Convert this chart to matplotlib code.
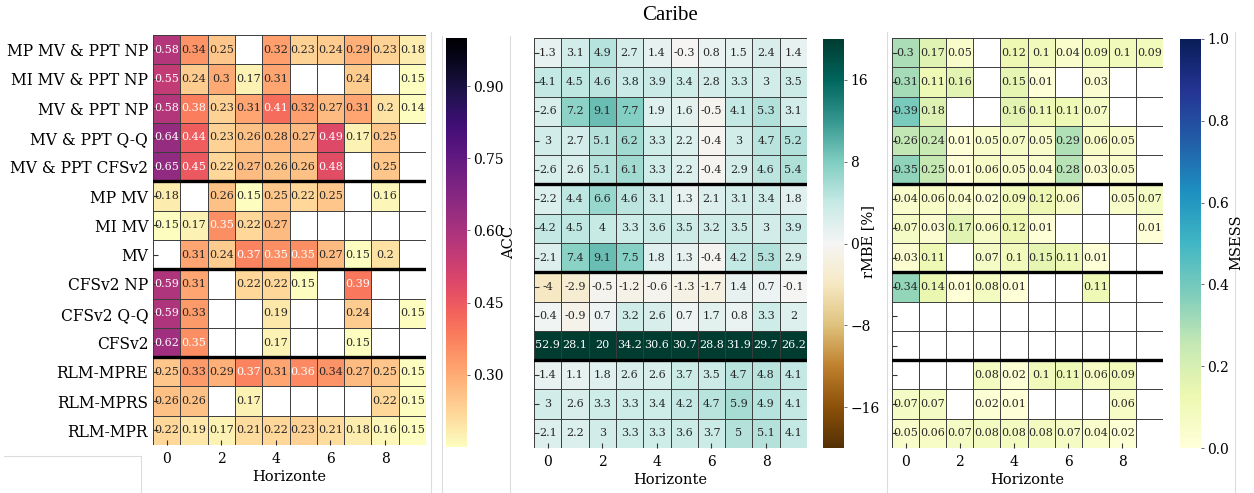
import numpy as np
import matplotlib
matplotlib.use("Agg")
import matplotlib.pyplot as plt
from matplotlib.colors import Normalize
from matplotlib.cm import ScalarMappable
from matplotlib.lines import Line2D

nan = np.nan

models = [
    "MP MV & PPT NP", "MI MV & PPT NP", "MV & PPT NP", "MV & PPT Q-Q",
    "MV & PPT CFSv2", "MP MV", "MI MV", "MV", "CFSv2 NP", "CFSv2 Q-Q",
    "CFSv2", "RLM-MPRE", "RLM-MPRS", "RLM-MPR",
]
horizons = list(range(10))

# Anomaly correlation (blank = not significant)
acc = [
    [0.58, 0.34, 0.25, nan, 0.32, 0.23, 0.24, 0.29, 0.23, 0.18],
    [0.55, 0.24, 0.30, 0.17, 0.31, nan, nan, 0.24, nan, 0.15],
    [0.58, 0.38, 0.23, 0.31, 0.41, 0.32, 0.27, 0.31, 0.20, 0.14],
    [0.64, 0.44, 0.23, 0.26, 0.28, 0.27, 0.49, 0.17, 0.25, nan],
    [0.65, 0.45, 0.22, 0.27, 0.26, 0.26, 0.48, nan, 0.25, nan],
    [0.18, nan, 0.26, 0.15, 0.25, 0.22, 0.25, nan, 0.16, nan],
    [0.15, 0.17, 0.35, 0.22, 0.27, nan, nan, nan, nan, nan],
    [nan, 0.31, 0.24, 0.37, 0.35, 0.35, 0.27, 0.15, 0.20, nan],
    [0.59, 0.31, nan, 0.22, 0.22, 0.15, nan, 0.39, nan, nan],
    [0.59, 0.33, nan, nan, 0.19, nan, nan, 0.24, nan, 0.15],
    [0.62, 0.35, nan, nan, 0.17, nan, nan, 0.15, nan, nan],
    [0.25, 0.33, 0.29, 0.37, 0.31, 0.36, 0.34, 0.27, 0.25, 0.15],
    [0.26, 0.26, nan, 0.17, nan, nan, nan, nan, 0.22, 0.15],
    [0.22, 0.19, 0.17, 0.21, 0.22, 0.23, 0.21, 0.18, 0.16, 0.15],
]

# Relative mean bias error [%]
rmbe = [
    [1.3, 3.1, 4.9, 2.7, 1.4, -0.3, 0.8, 1.5, 2.4, 1.4],
    [4.1, 4.5, 4.6, 3.8, 3.9, 3.4, 2.8, 3.3, 3.0, 3.5],
    [2.6, 7.2, 9.1, 7.7, 1.9, 1.6, -0.5, 4.1, 5.3, 3.1],
    [3.0, 2.7, 5.1, 6.2, 3.3, 2.2, -0.4, 3.0, 4.7, 5.2],
    [2.6, 2.6, 5.1, 6.1, 3.3, 2.2, -0.4, 2.9, 4.6, 5.4],
    [2.2, 4.4, 6.6, 4.6, 3.1, 1.3, 2.1, 3.1, 3.4, 1.8],
    [4.2, 4.5, 4.0, 3.3, 3.6, 3.5, 3.2, 3.5, 3.0, 3.9],
    [2.1, 7.4, 9.1, 7.5, 1.8, 1.3, -0.4, 4.2, 5.3, 2.9],
    [-4.0, -2.9, -0.5, -1.2, -0.6, -1.3, -1.7, 1.4, 0.7, -0.1],
    [0.4, -0.9, 0.7, 3.2, 2.6, 0.7, 1.7, 0.8, 3.3, 2.0],
    [52.9, 28.1, 20.0, 34.2, 30.6, 30.7, 28.8, 31.9, 29.7, 26.2],
    [1.4, 1.1, 1.8, 2.6, 2.6, 3.7, 3.5, 4.7, 4.8, 4.1],
    [3.0, 2.6, 3.3, 3.3, 3.4, 4.2, 4.7, 5.9, 4.9, 4.1],
    [2.1, 2.2, 3.0, 3.3, 3.3, 3.6, 3.7, 5.0, 5.1, 4.1],
]

# Mean squared error skill score (blank = no skill)
msess = [
    [0.30, 0.17, 0.05, nan, 0.12, 0.10, 0.04, 0.09, 0.10, 0.09],
    [0.31, 0.11, 0.16, nan, 0.15, 0.01, nan, 0.03, nan, nan],
    [0.39, 0.18, nan, nan, 0.16, 0.11, 0.11, 0.07, nan, nan],
    [0.26, 0.24, 0.01, 0.05, 0.07, 0.05, 0.29, 0.06, 0.05, nan],
    [0.35, 0.25, 0.01, 0.06, 0.05, 0.04, 0.28, 0.03, 0.05, nan],
    [0.04, 0.06, 0.04, 0.02, 0.09, 0.12, 0.06, nan, 0.05, 0.07],
    [0.07, 0.03, 0.17, 0.06, 0.12, 0.01, nan, nan, nan, 0.01],
    [0.03, 0.11, nan, 0.07, 0.10, 0.15, 0.11, 0.01, nan, nan],
    [0.34, 0.14, 0.01, 0.08, 0.01, nan, nan, 0.11, nan, nan],
    [nan] * 10,
    [nan] * 10,
    [nan, nan, nan, 0.08, 0.02, 0.10, 0.11, 0.06, 0.09, nan],
    [0.07, 0.07, nan, 0.02, 0.01, nan, nan, nan, 0.06, nan],
    [0.05, 0.06, 0.07, 0.08, 0.08, 0.08, 0.07, 0.04, 0.02, nan],
]

group_breaks = [5, 8, 11]

plt.rcParams["font.family"] = ["DejaVu Serif"]

W, H = 1254, 493
fig = plt.figure(figsize=(W / 100, H / 100), dpi=100)


def px_axes(x0, y0, x1, y1):
    return fig.add_axes([x0 / W, 1 - y1 / H, (x1 - x0) / W, (y1 - y0) / H])


def draw_panel(ax, values, cmap, norm, light_text, show_labels):
    data = np.ma.masked_invalid(np.array(values, dtype=float))
    nrow, ncol = data.shape
    ax.pcolormesh(np.arange(ncol + 1), np.arange(nrow + 1), data,
                  cmap=cmap, norm=norm)
    ax.set_xlim(0, ncol)
    ax.set_ylim(nrow, 0)
    for i in range(nrow + 1):
        ax.axhline(i, color="#3c3c3c", lw=0.7, zorder=3)
    for j in range(ncol + 1):
        ax.axvline(j, color="#3c3c3c", lw=0.7, zorder=3)
    for b in group_breaks:
        ax.axhline(b, color="black", lw=2.4, zorder=4)
    for i in range(nrow):
        for j in range(ncol):
            v = data[i, j]
            if np.ma.is_masked(v):
                continue
            color = "white" if light_text(v) else "#262626"
            ax.text(j + 0.5, i + 0.5, "{:g}".format(v), ha="center",
                    va="center", fontsize=8, color=color, zorder=5)
    ax.set_xticks(np.arange(0, ncol, 2) + 0.5)
    ax.set_xticklabels([str(h) for h in horizons[::2]], fontsize=10)
    ax.set_yticks(np.arange(nrow) + 0.5)
    if show_labels:
        ax.set_yticklabels(models, fontsize=11.2)
    else:
        ax.set_yticklabels([])
    ax.tick_params(axis="both", direction="in", length=3.5, width=0.8,
                   color="#333333", zorder=6)
    ax.tick_params(axis="x", pad=5)
    ax.set_xlabel("Horizonte", fontsize=10.5, labelpad=3)
    for s in ax.spines.values():
        s.set_visible(False)


def draw_cbar(cax, cmap, norm, ticks, labels, label, label_x):
    cb = fig.colorbar(ScalarMappable(norm=norm, cmap=cmap), cax=cax)
    cb.outline.set_visible(False)
    cb.set_ticks(ticks)
    cb.set_ticklabels(labels)
    cax.tick_params(direction="out", length=2.5, width=0.6, pad=2,
                    labelsize=10, color="#555555")
    fig.text(label_x / W, 1 - 242 / H, label, rotation=90, ha="center",
             va="center", fontsize=10.5)


# ACC
ax1 = px_axes(153, 35, 426, 445)
norm1 = Normalize(0.15, 1.0)
draw_panel(ax1, acc, "magma_r", norm1, lambda v: v >= 0.35, True)
cax1 = px_axes(446, 38, 467, 447)
acc_ticks = [0.30, 0.45, 0.60, 0.75, 0.90]
draw_cbar(cax1, "magma_r", norm1, acc_ticks,
          ["{:.2f}".format(t) for t in acc_ticks], "ACC", 509)

# rMBE
ax2 = px_axes(534, 38, 807, 448)
norm2 = Normalize(-20, 20)
draw_panel(ax2, rmbe, "BrBG", norm2, lambda v: abs(v) >= 16, False)
cax2 = px_axes(823, 39, 844, 448)
rmbe_ticks = [-16, -8, 0, 8, 16]
draw_cbar(cax2, "BrBG", norm2, rmbe_ticks,
          ["{:g}".format(t).replace("-", "\u2212") for t in rmbe_ticks],
          "rMBE [%]", 868)

# MSESS
ax3 = px_axes(892, 38, 1163, 448)
norm3 = Normalize(0.0, 1.0)
draw_panel(ax3, msess, "YlGnBu", norm3, lambda v: v >= 0.6, False)
cax3 = px_axes(1180, 39, 1201, 448)
msess_ticks = [0.0, 0.2, 0.4, 0.6, 0.8, 1.0]
draw_cbar(cax3, "YlGnBu", norm3, msess_ticks,
          ["{:.1f}".format(t) for t in msess_ticks], "MSESS", 1236)

fig.text(670 / W, 1 - 16 / H, "Caribe", ha="center", va="center",
         fontsize=15, family=["Liberation Serif"])

# thin frame lines around the individual plot blocks
frame = "#dcdcdc"
for (x0, y0, x1, y1) in [(4, 456, 141, 456), (141, 456, 141, 493),
                         (431, 32, 431, 493), (442, 36, 442, 493),
                         (510, 36, 510, 493), (887, 32, 887, 493),
                         (1235, 32, 1235, 493)]:
    fig.add_artist(Line2D([x0 / W, x1 / W], [1 - y0 / H, 1 - y1 / H],
                          transform=fig.transFigure, color=frame, lw=0.8))

fig.savefig("out.png", dpi=100)
